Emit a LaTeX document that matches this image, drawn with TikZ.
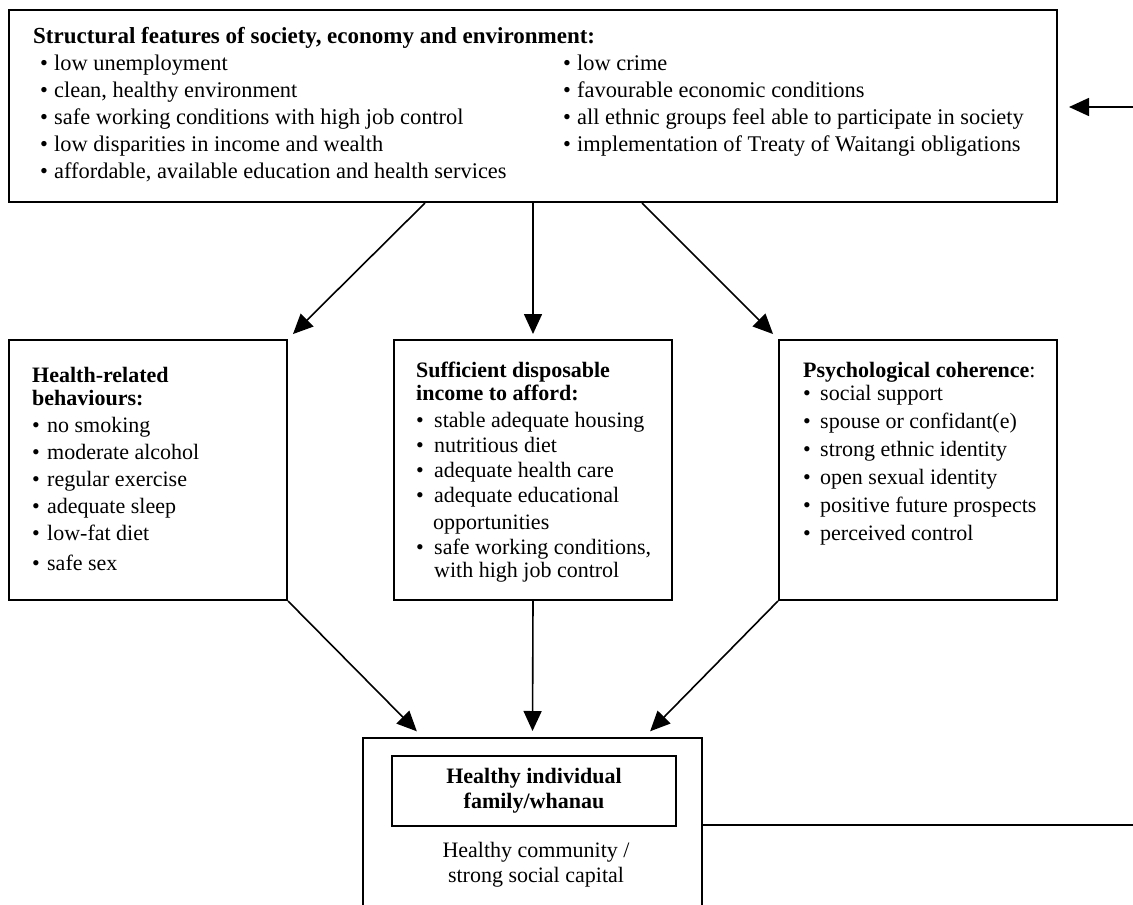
\documentclass[tikz,border=0pt]{standalone}
\usepackage{fontspec}
\setmainfont{Liberation Serif}
\usetikzlibrary{arrows.meta,calc}
\newcommand{\bul}[1][14pt]{\makebox[#1][l]{\textbullet}}

\begin{document}
\begin{tikzpicture}[x=1pt,y=-1pt,
  box/.style={draw,line width=2pt,rectangle,inner sep=0pt},
  txt/.style={anchor=north west,align=left,inner sep=0pt},
  arr/.style={line width=1.6pt,-{Triangle[length=20pt,width=18pt]}}]

\useasboundingbox (0,0) rectangle (1133,905);
\clip (0,0) rectangle (1133,905);

\node[box,minimum width=1048pt,minimum height=192pt] (struct) at (533,106) {};
\node[box,minimum width=278pt,minimum height=260pt] (beh) at (148,470) {};
\node[box,minimum width=278pt,minimum height=260pt] (dis) at (533,470) {};
\node[box,minimum width=278pt,minimum height=260pt] (psy) at (918,470) {};
\node[box,minimum width=339pt,minimum height=200pt] (comm) at (532.5,838) {};
\node[box,minimum width=284pt,minimum height=70pt,align=center,
  font=\fontsize{22}{25}\selectfont\bfseries] (ind) at (534,791)
  {Healthy individual\\family/whanau};

\node[txt,font=\fontsize{22.4}{27}\selectfont] (structl) at (33,27)
  {{\fontsize{23}{27}\selectfont\bfseries Structural features of society, economy and environment:}\\
   \hspace*{7pt}\bul low unemployment\\
   \hspace*{7pt}\bul clean, healthy environment\\
   \hspace*{7pt}\bul safe working conditions with high job control\\
   \hspace*{7pt}\bul low disparities in income and wealth\\
   \hspace*{7pt}\bul affordable, available education and health services};
\node[txt,font=\fontsize{22.4}{27}\selectfont] (structr) at (563,55)
  {\bul low crime\\
   \bul favourable economic conditions\\
   \bul all ethnic groups feel able to participate in society\\
   \bul implementation of Treaty of Waitangi obligations};

\node[txt,font=\fontsize{22}{27}\selectfont] (behtxt) at (32,367)
  {\textbf{Health-related}\\[-4pt]
   \textbf{behaviours:}\\
   \bul[15pt]no smoking\\
   \bul[15pt]moderate alcohol\\
   \bul[15pt]regular exercise\\
   \bul[15pt]adequate sleep\\
   \bul[15pt]low-fat diet\\[3pt]
   \bul[15pt]safe sex};

\node[txt,font=\fontsize{22}{25}\selectfont] (distxt) at (416,362)
  {\textbf{Sufficient disposable}\\[-2pt]
   \textbf{income to afford:}\\[2pt]
   \bul[18pt]stable adequate housing\\
   \bul[18pt]nutritious diet\\
   \bul[18pt]adequate health care\\
   \bul[18pt]adequate educational\\[2pt]
   \hspace*{17pt}opportunities\\
   \bul[18pt]safe working conditions,\\[-2pt]
   \hspace*{18pt}with high job control};

\node[txt,font=\fontsize{22}{28}\selectfont] (psytxt) at (803,362)
  {\textbf{Psychological coherence}:\\[-5pt]
   \bul[17pt]social support\\
   \bul[17pt]spouse or confidant(e)\\
   \bul[17pt]strong ethnic identity\\
   \bul[17pt]open sexual identity\\
   \bul[17pt]positive future prospects\\
   \bul[17pt]perceived control};

\node[align=center,inner sep=0pt,font=\fontsize{22}{25}\selectfont] (commtxt) at (536,865)
  {Healthy community /\\strong social capital};

\coordinate (s1) at ($(struct.south)+(-108,0)$);
\coordinate (s3) at ($(struct.south)+(109,0)$);
\coordinate (c1) at ($(comm.north)+(-110,0)$);
\coordinate (c3) at ($(comm.north)+(112,0)$);
\coordinate (fbin) at (1133,107);
\coordinate (fbout) at (1133,825);

\draw[arr,shorten >=7pt] (s1) -- (beh.north east);
\draw[arr,shorten >=5pt] (struct.south) -- (dis.north);
\draw[arr,shorten >=7pt] (s3) -- (psy.north west);
\draw[arr,shorten >=8pt] (beh.south east) -- (c1);
\draw[arr,shorten >=6pt] (dis.south) -- (comm.north);
\draw[arr,shorten >=8pt] (psy.south west) -- (c3);

\draw[line width=2pt] (comm.east |- fbout) -- (fbout);
\draw[arr,shorten >=11pt] (fbin) -- (struct.east |- fbin);

\end{tikzpicture}
\end{document}
